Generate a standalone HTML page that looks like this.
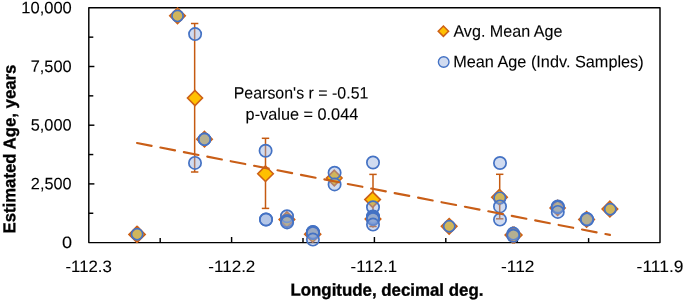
<!DOCTYPE html>
<html><head><meta charset="utf-8"><style>
html,body{margin:0;padding:0;background:#fff;}
body{width:685px;height:301px;overflow:hidden;}
svg{display:block;will-change:transform;}
text{font-family:"Liberation Sans",sans-serif;fill:#000;}
</style></head><body>
<svg width="685" height="301" viewBox="0 0 685 301">
<rect x="88.8" y="7.8" width="571.20" height="234.80" fill="none" stroke="#000" stroke-width="1.45" stroke-linejoin="round"/>
<line x1="88.8" y1="213.25" x2="93.3" y2="213.25" stroke="#000" stroke-width="1.45"/>
<line x1="88.8" y1="183.90" x2="94.39999999999999" y2="183.90" stroke="#000" stroke-width="1.45"/>
<line x1="88.8" y1="154.55" x2="93.3" y2="154.55" stroke="#000" stroke-width="1.45"/>
<line x1="88.8" y1="125.20" x2="94.39999999999999" y2="125.20" stroke="#000" stroke-width="1.45"/>
<line x1="88.8" y1="95.85" x2="93.3" y2="95.85" stroke="#000" stroke-width="1.45"/>
<line x1="88.8" y1="66.50" x2="94.39999999999999" y2="66.50" stroke="#000" stroke-width="1.45"/>
<line x1="88.8" y1="37.15" x2="93.3" y2="37.15" stroke="#000" stroke-width="1.45"/>
<line x1="160.20" y1="242.6" x2="160.20" y2="238.1" stroke="#000" stroke-width="1.45"/>
<line x1="231.60" y1="242.6" x2="231.60" y2="237.0" stroke="#000" stroke-width="1.45"/>
<line x1="303.00" y1="242.6" x2="303.00" y2="238.1" stroke="#000" stroke-width="1.45"/>
<line x1="374.40" y1="242.6" x2="374.40" y2="237.0" stroke="#000" stroke-width="1.45"/>
<line x1="445.80" y1="242.6" x2="445.80" y2="238.1" stroke="#000" stroke-width="1.45"/>
<line x1="517.20" y1="242.6" x2="517.20" y2="237.0" stroke="#000" stroke-width="1.45"/>
<line x1="588.60" y1="242.6" x2="588.60" y2="238.1" stroke="#000" stroke-width="1.45"/>
<text transform="matrix(1,0.001,0,1,0,-0.0465)" x="21.25" y="13.20" font-size="16.5" stroke="#000" stroke-width="0.1" textLength="50.57" lengthAdjust="spacingAndGlyphs">10,000</text>
<text transform="matrix(1,0.001,0,1,0,-0.0511)" x="30.66" y="71.90" font-size="16.5" stroke="#000" stroke-width="0.1" textLength="40.99" lengthAdjust="spacingAndGlyphs">7,500</text>
<text transform="matrix(1,0.001,0,1,0,-0.0511)" x="30.66" y="130.60" font-size="16.5" stroke="#000" stroke-width="0.1" textLength="40.99" lengthAdjust="spacingAndGlyphs">5,000</text>
<text transform="matrix(1,0.001,0,1,0,-0.0512)" x="30.86" y="189.30" font-size="16.5" stroke="#000" stroke-width="0.1" textLength="40.78" lengthAdjust="spacingAndGlyphs">2,500</text>
<text transform="matrix(1,0.001,0,1,0,-0.0671)" x="62.08" y="248.00" font-size="16.5" stroke="#000" stroke-width="0.1" textLength="10.08" lengthAdjust="spacingAndGlyphs">0</text>
<text transform="matrix(1,0.001,0,1,0,-0.0886)" x="65.44" y="272.00" font-size="16.5" stroke="#000" stroke-width="0.1" textLength="46.39" lengthAdjust="spacingAndGlyphs">-112.3</text>
<text transform="matrix(1,0.001,0,1,0,-0.2318)" x="208.33" y="272.00" font-size="16.5" stroke="#000" stroke-width="0.1" textLength="47.01" lengthAdjust="spacingAndGlyphs">-112.2</text>
<text transform="matrix(1,0.001,0,1,0,-0.3739)" x="350.63" y="272.00" font-size="16.5" stroke="#000" stroke-width="0.1" textLength="46.60" lengthAdjust="spacingAndGlyphs">-112.1</text>
<text transform="matrix(1,0.001,0,1,0,-0.5177)" x="501.01" y="272.00" font-size="16.5" stroke="#000" stroke-width="0.1" textLength="33.44" lengthAdjust="spacingAndGlyphs">-112</text>
<text transform="matrix(1,0.001,0,1,0,-0.6600)" x="636.61" y="272.00" font-size="16.5" stroke="#000" stroke-width="0.1" textLength="46.89" lengthAdjust="spacingAndGlyphs">-111.9</text>
<text transform="matrix(1,0.001,0,1,0,-0.5080)" x="453.40" y="36.75" font-size="16.5" stroke="#000" stroke-width="0.1" textLength="109.14" lengthAdjust="spacingAndGlyphs">Avg. Mean Age</text>
<text transform="matrix(1,0.001,0,1,0,-0.5484)" x="453.17" y="67.30" font-size="16.5" stroke="#000" stroke-width="0.1" textLength="190.49" lengthAdjust="spacingAndGlyphs">Mean Age (Indv. Samples)</text>
<text transform="matrix(1,0.001,0,1,0,-0.3011)" x="233.69" y="98.55" font-size="16.5" stroke="#000" stroke-width="0.1" textLength="134.74" lengthAdjust="spacingAndGlyphs">Pearson&#39;s r = -0.51</text>
<text transform="matrix(1,0.001,0,1,0,-0.3019)" x="245.61" y="119.75" font-size="16.5" stroke="#000" stroke-width="0.1" textLength="112.65" lengthAdjust="spacingAndGlyphs">p-value = 0.044</text>
<text transform="matrix(1,0.001,0,1,0,-0.3869)" x="290.47" y="295.70" font-size="17.2" font-weight="bold" stroke="#000" stroke-width="0.35" textLength="192.92" lengthAdjust="spacingAndGlyphs">Longitude, decimal deg.</text>
<text transform="translate(15.3155,233.52) matrix(0.001,-1,1,0,0,0)" x="0" y="0" font-size="17.2" font-weight="bold" stroke="#000" stroke-width="0.35" textLength="168.94" lengthAdjust="spacingAndGlyphs">Estimated Age, years</text>
<path d="M443.4 26 L448.6 31.2 L443.4 36.4 L438.2 31.2 Z" fill="#FFC000" stroke="#CD6016" stroke-width="1.5"/>
<circle cx="443.7" cy="62" r="5.3" fill="rgba(143,170,220,0.42)" stroke="#4472C4" stroke-width="1.4"/>
<line x1="194.65" y1="23.5" x2="194.65" y2="172.0" stroke="#C55A11" stroke-width="1.5"/>
<line x1="190.95000000000002" y1="23.5" x2="198.35" y2="23.5" stroke="#C55A11" stroke-width="1.5"/>
<line x1="190.95000000000002" y1="172.0" x2="198.35" y2="172.0" stroke="#C55A11" stroke-width="1.5"/>
<line x1="265.5" y1="138.3" x2="265.5" y2="208.4" stroke="#C55A11" stroke-width="1.5"/>
<line x1="261.8" y1="138.3" x2="269.2" y2="138.3" stroke="#C55A11" stroke-width="1.5"/>
<line x1="261.8" y1="208.4" x2="269.2" y2="208.4" stroke="#C55A11" stroke-width="1.5"/>
<line x1="373" y1="174.4" x2="373" y2="226.5" stroke="#C55A11" stroke-width="1.5"/>
<line x1="369.3" y1="174.4" x2="376.7" y2="174.4" stroke="#C55A11" stroke-width="1.5"/>
<line x1="369.3" y1="226.5" x2="376.7" y2="226.5" stroke="#C55A11" stroke-width="1.5"/>
<line x1="499.7" y1="174.3" x2="499.7" y2="218.8" stroke="#C55A11" stroke-width="1.5"/>
<line x1="496.0" y1="174.3" x2="503.4" y2="174.3" stroke="#C55A11" stroke-width="1.5"/>
<line x1="496.0" y1="218.8" x2="503.4" y2="218.8" stroke="#C55A11" stroke-width="1.5"/>
<path d="M177.5 8.05 L185.25 15.8 L177.5 23.55 L169.75 15.8 Z" fill="#FFC000" stroke="#CD6016" stroke-width="1.6"/>
<path d="M195 90.50 L202.50 98.0 L195 105.50 L187.50 98.0 Z" fill="#FFC000" stroke="#CD6016" stroke-width="1.6"/>
<path d="M204.5 131.45 L212.25 139.2 L204.5 146.95 L196.75 139.2 Z" fill="#FFC000" stroke="#CD6016" stroke-width="1.6"/>
<path d="M136.7 226.65 L144.45 234.4 L136.7 242.15 L128.95 234.4 Z" fill="#FFC000" stroke="#CD6016" stroke-width="1.6"/>
<path d="M137.4 226.65 L145.15 234.4 L137.4 242.15 L129.65 234.4 Z" fill="#FFC000" stroke="#CD6016" stroke-width="1.6"/>
<path d="M265.5 165.95 L273.25 173.7 L265.5 181.45 L257.75 173.7 Z" fill="#FFC000" stroke="#CD6016" stroke-width="1.6"/>
<path d="M286.9 211.85 L294.65 219.6 L286.9 227.35 L279.15 219.6 Z" fill="#FFC000" stroke="#CD6016" stroke-width="1.6"/>
<path d="M312.7 226.20 L320.70 234.2 L312.7 242.20 L304.70 234.2 Z" fill="#FFC000" stroke="#CD6016" stroke-width="1.6"/>
<path d="M334.3 170.25 L342.05 178 L334.3 185.75 L326.55 178 Z" fill="#FFC000" stroke="#CD6016" stroke-width="1.6"/>
<path d="M372.6 191.85 L380.35 199.6 L372.6 207.35 L364.85 199.6 Z" fill="#FFC000" stroke="#CD6016" stroke-width="1.6"/>
<path d="M373 211.25 L380.75 219 L373 226.75 L365.25 219 Z" fill="#FFC000" stroke="#CD6016" stroke-width="1.6"/>
<path d="M449.15 218.55 L456.90 226.3 L449.15 234.05 L441.40 226.3 Z" fill="#FFC000" stroke="#CD6016" stroke-width="1.6"/>
<path d="M499.5 189.45 L507.25 197.2 L499.5 204.95 L491.75 197.2 Z" fill="#FFC000" stroke="#CD6016" stroke-width="1.6"/>
<path d="M512.9 227.25 L520.65 235 L512.9 242.75 L505.15 235 Z" fill="#FFC000" stroke="#CD6016" stroke-width="1.6"/>
<path d="M514.2 227.25 L521.95 235 L514.2 242.75 L506.45 235 Z" fill="#FFC000" stroke="#CD6016" stroke-width="1.6"/>
<path d="M557.6 200.40 L565.10 207.9 L557.6 215.40 L550.10 207.9 Z" fill="#FFC000" stroke="#CD6016" stroke-width="1.6"/>
<path d="M586.6 211.65 L594.35 219.4 L586.6 227.15 L578.85 219.4 Z" fill="#FFC000" stroke="#CD6016" stroke-width="1.6"/>
<path d="M609.9 201.25 L617.65 209.0 L609.9 216.75 L602.15 209.0 Z" fill="#FFC000" stroke="#CD6016" stroke-width="1.6"/>
<circle cx="177.55" cy="15.9" r="5.60" fill="rgba(143,170,220,0.42)" stroke="#4472C4" stroke-width="1.7"/>
<circle cx="195.1" cy="34.1" r="6.15" fill="rgba(143,170,220,0.42)" stroke="#4472C4" stroke-width="1.7"/>
<circle cx="195" cy="162.9" r="6.15" fill="rgba(143,170,220,0.42)" stroke="#4472C4" stroke-width="1.7"/>
<circle cx="204.5" cy="139.3" r="5.95" fill="rgba(143,170,220,0.42)" stroke="#4472C4" stroke-width="1.7"/>
<circle cx="204.5" cy="139.3" r="5.95" fill="rgba(143,170,220,0.42)" stroke="#4472C4" stroke-width="1.7"/>
<circle cx="137.1" cy="234.2" r="5.60" fill="rgba(143,170,220,0.42)" stroke="#4472C4" stroke-width="1.7"/>
<circle cx="265.6" cy="150.8" r="6.15" fill="rgba(143,170,220,0.42)" stroke="#4472C4" stroke-width="1.7"/>
<circle cx="266" cy="219.5" r="6.15" fill="rgba(143,170,220,0.42)" stroke="#4472C4" stroke-width="1.7"/>
<circle cx="266" cy="219.5" r="6.15" fill="rgba(143,170,220,0.42)" stroke="#4472C4" stroke-width="1.7"/>
<circle cx="287.0" cy="216.3" r="6.15" fill="rgba(143,170,220,0.42)" stroke="#4472C4" stroke-width="1.7"/>
<circle cx="287.0" cy="221.0" r="6.15" fill="rgba(143,170,220,0.42)" stroke="#4472C4" stroke-width="1.7"/>
<circle cx="287.1" cy="222.4" r="6.15" fill="rgba(143,170,220,0.42)" stroke="#4472C4" stroke-width="1.7"/>
<circle cx="312.9" cy="231.9" r="6.15" fill="rgba(143,170,220,0.42)" stroke="#4472C4" stroke-width="1.7"/>
<circle cx="312.9" cy="232.3" r="6.15" fill="rgba(143,170,220,0.42)" stroke="#4472C4" stroke-width="1.7"/>
<circle cx="312.9" cy="232.6" r="6.15" fill="rgba(143,170,220,0.42)" stroke="#4472C4" stroke-width="1.7"/>
<circle cx="312.9" cy="233.1" r="6.15" fill="rgba(143,170,220,0.42)" stroke="#4472C4" stroke-width="1.7"/>
<circle cx="312.9" cy="239.6" r="6.15" fill="rgba(143,170,220,0.42)" stroke="#4472C4" stroke-width="1.7"/>
<circle cx="334.6" cy="172.8" r="6.15" fill="rgba(143,170,220,0.42)" stroke="#4472C4" stroke-width="1.7"/>
<circle cx="334.6" cy="184.4" r="6.15" fill="rgba(143,170,220,0.42)" stroke="#4472C4" stroke-width="1.7"/>
<circle cx="373" cy="162.5" r="6.15" fill="rgba(143,170,220,0.42)" stroke="#4472C4" stroke-width="1.7"/>
<circle cx="373" cy="207.3" r="6.15" fill="rgba(143,170,220,0.42)" stroke="#4472C4" stroke-width="1.7"/>
<circle cx="373" cy="216.4" r="6.15" fill="rgba(143,170,220,0.42)" stroke="#4472C4" stroke-width="1.7"/>
<circle cx="373" cy="216.8" r="6.15" fill="rgba(143,170,220,0.42)" stroke="#4472C4" stroke-width="1.7"/>
<circle cx="373" cy="217.6" r="6.15" fill="rgba(143,170,220,0.42)" stroke="#4472C4" stroke-width="1.7"/>
<circle cx="373" cy="218.5" r="6.15" fill="rgba(143,170,220,0.42)" stroke="#4472C4" stroke-width="1.7"/>
<circle cx="373" cy="219.0" r="6.15" fill="rgba(143,170,220,0.42)" stroke="#4472C4" stroke-width="1.7"/>
<circle cx="373" cy="224.6" r="6.15" fill="rgba(143,170,220,0.42)" stroke="#4472C4" stroke-width="1.7"/>
<circle cx="449.25" cy="226.25" r="5.60" fill="rgba(143,170,220,0.42)" stroke="#4472C4" stroke-width="1.7"/>
<circle cx="500" cy="163.0" r="6.15" fill="rgba(143,170,220,0.42)" stroke="#4472C4" stroke-width="1.7"/>
<circle cx="499.8" cy="198.0" r="5.75" fill="rgba(143,170,220,0.42)" stroke="#4472C4" stroke-width="1.7"/>
<circle cx="500" cy="206.4" r="6.15" fill="rgba(143,170,220,0.42)" stroke="#4472C4" stroke-width="1.7"/>
<circle cx="500" cy="219.6" r="6.15" fill="rgba(143,170,220,0.42)" stroke="#4472C4" stroke-width="1.7"/>
<circle cx="513.3" cy="233.6" r="6.15" fill="rgba(143,170,220,0.42)" stroke="#4472C4" stroke-width="1.7"/>
<circle cx="513.3" cy="235.8" r="6.15" fill="rgba(143,170,220,0.42)" stroke="#4472C4" stroke-width="1.7"/>
<circle cx="557.8" cy="206.5" r="6.15" fill="rgba(143,170,220,0.42)" stroke="#4472C4" stroke-width="1.7"/>
<circle cx="557.8" cy="207.2" r="6.15" fill="rgba(143,170,220,0.42)" stroke="#4472C4" stroke-width="1.7"/>
<circle cx="557.8" cy="211.9" r="6.15" fill="rgba(143,170,220,0.42)" stroke="#4472C4" stroke-width="1.7"/>
<circle cx="586.8" cy="219.0" r="6.25" fill="rgba(143,170,220,0.42)" stroke="#4472C4" stroke-width="1.7"/>
<circle cx="587.1" cy="219.4" r="6.25" fill="rgba(143,170,220,0.42)" stroke="#4472C4" stroke-width="1.7"/>
<circle cx="610.25" cy="209.2" r="5.60" fill="rgba(143,170,220,0.42)" stroke="#4472C4" stroke-width="1.7"/>
<line x1="137.0" y1="143.0" x2="609.9" y2="234.93" stroke="#C95E17" stroke-width="2.15" stroke-linecap="round" stroke-dasharray="14.85 9.01"/>
</svg></body></html>
